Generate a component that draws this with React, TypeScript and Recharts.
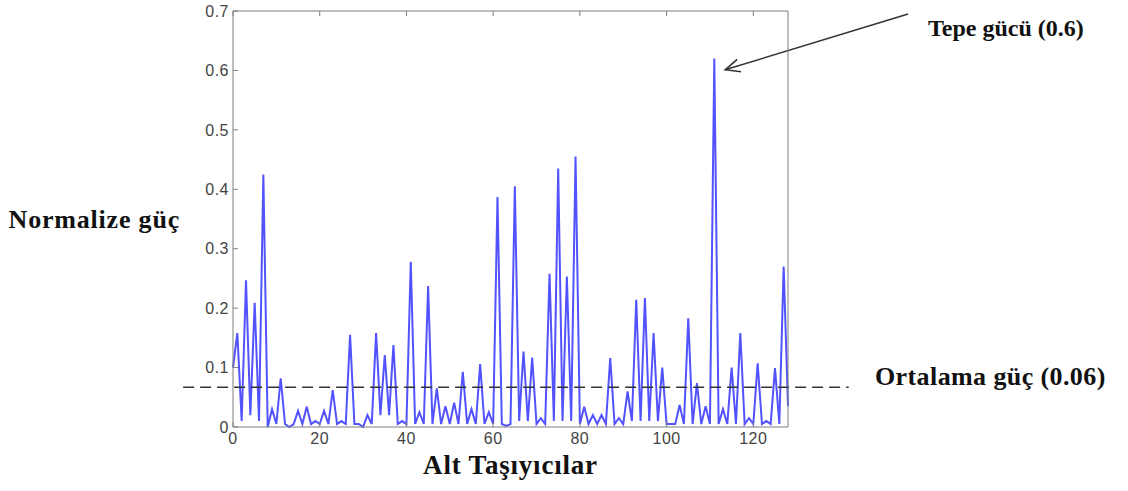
import React from 'react';
import { LineChart, Line, XAxis, YAxis, ReferenceLine } from 'recharts';

// normalized power per subcarrier (index = subcarrier number)
const power = [
  0.10, 0.158, 0.01, 0.247, 0.02, 0.209, 0.01, 0.425, 0.0, 0.03,
  0.005, 0.082, 0.005, 0.0, 0.005, 0.027, 0.005, 0.034, 0.005, 0.01,
  0.005, 0.027, 0.005, 0.062, 0.005, 0.01, 0.005, 0.155, 0.005, 0.005,
  0.0, 0.02, 0.005, 0.158, 0.02, 0.121, 0.02, 0.138, 0.005, 0.01,
  0.005, 0.278, 0.005, 0.025, 0.005, 0.237, 0.005, 0.065, 0.005, 0.035,
  0.005, 0.041, 0.005, 0.093, 0.005, 0.03, 0.005, 0.106, 0.005, 0.025,
  0.005, 0.387, 0.005, 0.002, 0.005, 0.405, 0.01, 0.127, 0.01, 0.117,
  0.005, 0.015, 0.005, 0.258, 0.01, 0.435, 0.01, 0.253, 0.01, 0.455,
  0.005, 0.034, 0.005, 0.02, 0.005, 0.02, 0.005, 0.116, 0.005, 0.015,
  0.005, 0.06, 0.01, 0.214, 0.01, 0.217, 0.01, 0.158, 0.01, 0.10,
  0.005, 0.005, 0.005, 0.037, 0.005, 0.183, 0.005, 0.074, 0.005, 0.035,
  0.005, 0.62, 0.005, 0.03, 0.005, 0.10, 0.005, 0.158, 0.005, 0.015,
  0.005, 0.107, 0.005, 0.01, 0.005, 0.099, 0.005, 0.27, 0.035,
];

const xTicks = [0, 20, 40, 60, 80, 100, 120];
const yTicks = [0, 0.1, 0.2, 0.3, 0.4, 0.5, 0.6, 0.7];

// dashed mean-power line (runs a bit past the axes like the original)
const meanPower = 0.067;
const meanSpan = [-11.5, 142];

// arrow from the "Tepe gücü" note to the highest peak
const peakArrow = [
  { x: 155.7, y: 0.695 },
  { x: 113.5, y: 0.601 },
];

const data = power.map((p, k) => ({ k, p }));

const axisColor = '#7f7f7f';
const tickStyle = { fontFamily: 'Arial, "Liberation Sans", sans-serif', fontSize: 16, fill: '#444', letterSpacing: 0.5 };
const serif = '"Liberation Serif", "Times New Roman", serif';
const noteStyle: React.CSSProperties = {
  position: 'absolute',
  fontFamily: serif,
  fontWeight: 'bold',
  color: '#111',
  lineHeight: 1,
  whiteSpace: 'nowrap',
};

const Arrow = (props: any) => {
  const { x1, y1, x2, y2 } = props;
  const ang = Math.atan2(y2 - y1, x2 - x1);
  const len = 16;
  const spread = 0.42;
  const ax = x2 - len * Math.cos(ang - spread);
  const ay = y2 - len * Math.sin(ang - spread);
  const bx = x2 - len * Math.cos(ang + spread);
  const by = y2 - len * Math.sin(ang + spread);
  return (
    <g stroke="#333" strokeWidth={1.5} fill="none">
      <line x1={x1} y1={y1} x2={x2} y2={y2} />
      <polyline points={`${ax},${ay} ${x2},${y2} ${bx},${by}`} />
    </g>
  );
};

export default function App() {
  return (
    <div style={{ position: 'absolute', left: 0, top: 0, width: 1128, height: 491, background: '#fff' }}>
      <LineChart width={1128} height={491} data={data} margin={{ top: 10, right: 339, bottom: 34, left: 193 }}>
        <XAxis
          dataKey="k"
          type="number"
          domain={[0, 128]}
          ticks={xTicks}
          height={30}
          tickSize={-5}
          tickMargin={11}
          stroke={axisColor}
          tick={tickStyle}
          label={{
            value: 'Alt Taşıyıcılar',
            position: 'bottom',
            offset: -2,
            style: { fontFamily: serif, fontWeight: 'bold', fontSize: 27, fill: '#111', letterSpacing: 0.8 },
          }}
        />
        <XAxis
          xAxisId="top"
          orientation="top"
          type="number"
          domain={[0, 128]}
          ticks={xTicks}
          height={1}
          tickSize={-5}
          tickFormatter={() => ''}
          stroke={axisColor}
        />
        <YAxis
          type="number"
          domain={[0, 0.7]}
          ticks={yTicks}
          width={40}
          tickSize={-5}
          tickMargin={9}
          stroke={axisColor}
          tick={tickStyle}
          label={{
            value: 'Normalize güç',
            position: 'left',
            offset: 13,
            style: { fontFamily: serif, fontWeight: 'bold', fontSize: 26, fill: '#111', letterSpacing: 0.8 },
          }}
        />
        <YAxis
          yAxisId="right"
          orientation="right"
          type="number"
          domain={[0, 0.7]}
          ticks={yTicks}
          width={1}
          tickSize={-5}
          tickFormatter={() => ''}
          stroke={axisColor}
        />
        <Line
          type="linear"
          dataKey="p"
          stroke="#5252ff"
          strokeWidth={2}
          dot={false}
          isAnimationActive={false}
        />
        <ReferenceLine
          segment={[{ x: meanSpan[0], y: meanPower }, { x: meanSpan[1], y: meanPower }]}
          ifOverflow="visible"
          stroke="#333"
          strokeWidth={1.6}
          strokeDasharray="11 6"
        />
        <ReferenceLine segment={peakArrow} ifOverflow="visible" shape={Arrow} />
      </LineChart>
      <div style={{ ...noteStyle, left: 928, top: 16, fontSize: 24 }}>Tepe gücü (0.6)</div>
      <div style={{ ...noteStyle, left: 875, top: 364, fontSize: 26, letterSpacing: 0.4 }}>Ortalama güç (0.06)</div>
    </div>
  );
}
